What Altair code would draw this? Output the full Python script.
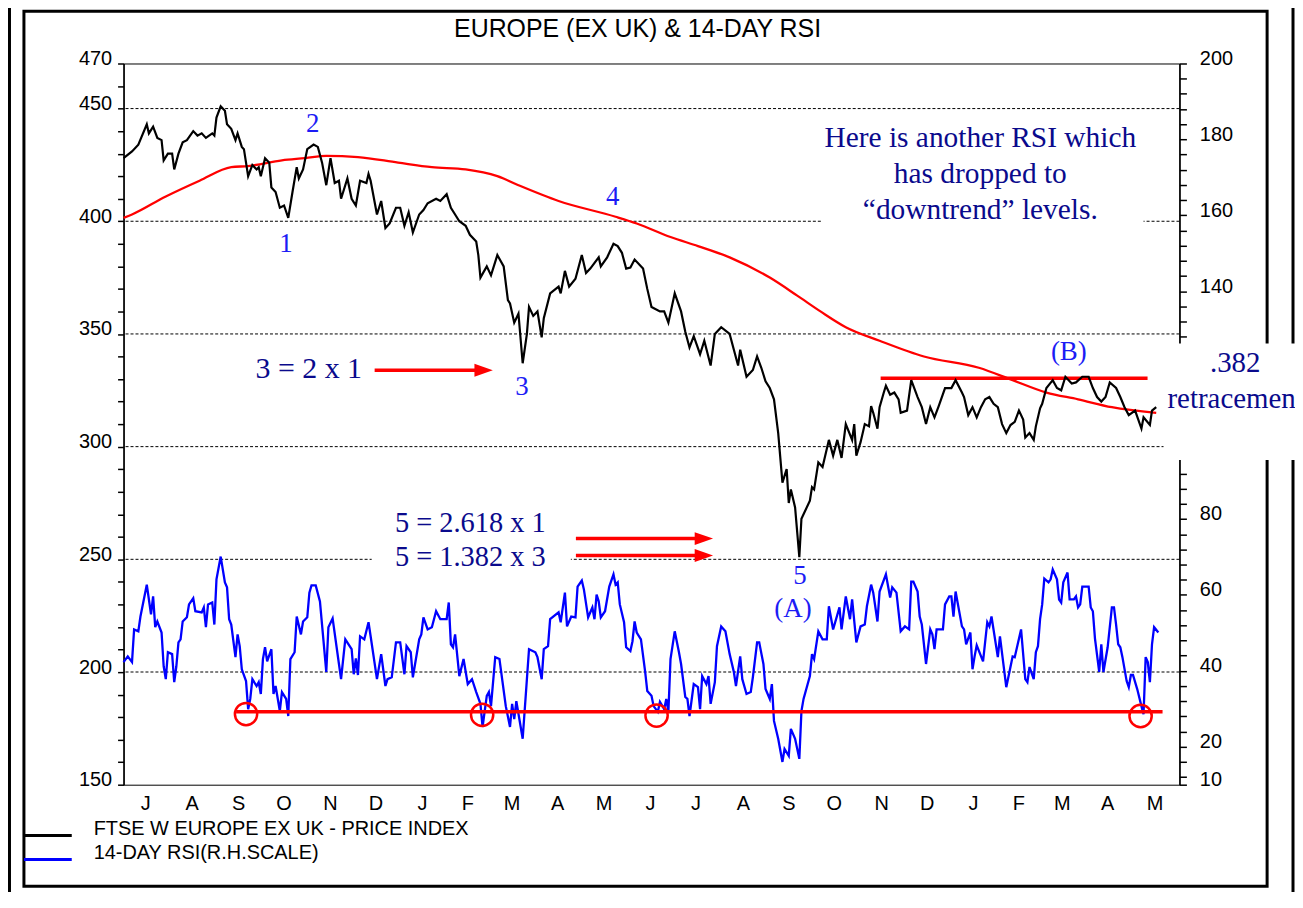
import json
import altair as alt
import pandas as pd

# ---------------- values ----------------
# x = trading-session number counted from 3 Jul 2000 (weekday axis, ends 31 May 2002)
price_t = [0, 4, 7, 11, 12, 14, 16, 18, 19, 21, 23, 24, 26, 28, 30, 33, 35, 37, 39, 42, 43, 44, 46, 48, 49,
           51, 53, 54, 56, 57, 59, 61, 63, 64, 65, 67, 69, 70, 72, 74, 76, 78, 80, 82, 83, 85, 87, 90, 92, 94,
           96, 98, 100, 102, 103, 106, 108, 110, 112, 115, 116, 117, 120, 122, 124, 126, 129, 131, 133, 135,
           137, 140, 142, 144, 148, 150, 153, 155, 157, 159, 162, 164, 167, 168, 169, 172, 174, 177, 180, 182,
           183, 185, 187, 189, 191, 192, 194, 196, 198, 199, 202, 206, 207, 209, 211, 214, 217, 219, 221, 225,
           226, 229, 232, 234, 236, 238, 240, 242, 246, 248, 250, 254, 256, 258, 261, 264, 266, 268, 270, 273,
           275, 278, 280, 283, 287, 289, 291, 292, 295, 298, 300, 302, 304, 306, 308, 310, 312, 314, 315, 316,
           318, 320, 321, 325, 326, 327, 329, 331, 334, 336, 338, 340, 342, 345, 346, 347, 349, 351, 353, 354,
           355, 357, 358, 360, 361, 363, 365, 367, 368, 371, 373, 376, 378, 380, 382, 384, 386, 389, 392, 394,
           397, 398, 400, 402, 404, 406, 408, 410, 412, 414, 416, 418, 420, 422, 424, 426, 427, 429, 431, 432,
           434, 435, 437, 440, 442, 444, 446, 449, 451, 454, 457, 459, 461, 463, 465, 467, 470, 472, 474, 476,
           479, 482, 483, 486, 487, 489]
price_v = [428, 431, 434, 443, 439, 442, 437, 436, 427, 430, 430, 423, 430, 435, 436, 440, 438, 439, 437, 439,
           438, 446, 451, 449, 443, 441, 436, 439, 433, 432, 420, 425, 423, 424, 420, 428, 426, 415, 413, 406,
           407, 401.5, 413, 424, 419, 423, 432, 434, 433, 426, 416, 428, 417, 418, 410, 419, 410, 407, 418, 417,
           421, 418, 403, 409, 397, 399, 406, 406, 398, 404, 395, 403, 405, 408, 410, 409, 412, 406, 403, 400,
           398, 394, 391, 385, 375, 380, 376, 385, 380, 365, 363.5, 355, 359, 337, 350, 362, 358, 360, 348.5,
           357, 368, 371, 368, 378, 371, 374.5, 385, 377, 379, 384, 380, 384, 390, 389, 386, 379, 379.5, 383,
           379, 370, 362, 360, 360, 355, 368, 360, 351, 344, 349, 341, 347, 336, 350, 353, 350, 343, 336, 343,
           331, 334, 340, 335, 329, 326, 321, 306, 284, 290, 275, 281, 273, 251, 268, 276, 282, 281, 293, 291,
           303, 296, 303, 295, 310, 303, 310, 296, 302, 310, 309, 318, 315, 308, 317.5, 324, 327, 323, 324, 321,
           315, 316, 329.5, 322, 317.5, 310, 317.5, 313, 318, 326, 326, 329.5, 324, 322, 314, 317.5, 313, 317.5,
           321, 322, 319, 317.5, 310, 306, 309.6, 311, 316, 312, 304, 306, 303, 309, 317, 319, 326, 329.5, 326,
           325, 331, 328, 328.5, 331, 331, 326, 322, 320, 322, 328.5, 326, 322, 317.5, 314, 316, 308, 313,
           309.6, 316, 317.5]

ma_t = [0, 4, 20, 36, 51, 59, 75, 86, 96, 111, 130, 146, 162, 177, 187, 206, 233, 243, 259, 272, 287, 306,
        319, 330, 342, 358, 379, 405, 421, 437, 452, 468, 489]
ma_v = [401.5, 403, 411, 418, 424, 424.5, 427, 428, 429, 428.5, 426, 424, 423, 420, 416, 409, 402, 399, 393,
        389, 384, 375, 367, 360, 353, 347, 340, 335, 329.5, 324, 321, 317.5, 315]

rsi_t = [0, 2, 4, 5, 7, 8, 11, 13, 14, 15, 16, 18, 19, 20, 21, 23, 24, 25, 26, 27, 28, 30, 31, 33, 34, 37, 38,
         39, 40, 42, 43, 44, 46, 48, 49, 50, 51, 53, 54, 55, 56, 58, 59, 60, 61, 63, 64, 65, 66, 67, 68, 70, 71,
         72, 74, 75, 77, 78, 79, 81, 82, 84, 85, 87, 88, 89, 91, 93, 96, 97, 99, 102, 103, 105, 108, 109, 110,
         111, 112, 114, 116, 117, 120, 122, 124, 125, 127, 129, 131, 133, 134, 136, 137, 140, 141, 142, 144,
         146, 148, 150, 153, 154, 155, 156, 157, 159, 161, 163, 165, 167, 169, 170, 172, 173, 174, 176, 178,
         181, 183, 184, 185, 186, 189, 191, 192, 195, 196, 198, 199, 201, 202, 206, 207, 209, 210, 212, 214,
         215, 217, 218, 220, 222, 223, 224, 225, 226, 228, 230, 232, 233, 234, 235, 237, 238, 240, 241, 242,
         243, 245, 247, 248, 250, 251, 253, 254, 256, 257, 258, 259, 261, 263, 264, 266, 267, 268, 270, 272,
         273, 274, 276, 277, 278, 280, 281, 283, 285, 287, 289, 290, 292, 293, 295, 297, 298, 300, 301, 303,
         304, 306, 307, 308, 310, 312, 313, 315, 316, 318, 320, 321, 322, 325, 326, 327, 329, 331, 333, 334,
         336, 339, 340, 342, 344, 345, 347, 349, 351, 352, 354, 355, 357, 358, 361, 363, 364, 366, 368, 370,
         372, 373, 374, 376, 377, 378, 380, 382, 383, 384, 385, 388, 389, 391, 392, 393, 394, 397, 398, 399,
         401, 402, 403, 404, 407, 409, 410, 411, 414, 415, 418, 421, 422, 425, 427, 428, 429, 431, 432, 433,
         434, 435, 436, 438, 439, 440, 442, 443, 444, 445, 447, 448, 450, 451, 452, 453, 454, 457, 458, 459,
         460, 462, 463, 464, 466, 468, 469, 470, 471, 472, 473, 475, 476, 477, 478, 480, 482, 483, 484, 485,
         486, 487, 488, 490]
rsi_v = [42.3, 43.8, 42.3, 50.9, 50.4, 54.3, 62.7, 54.9, 59.6, 51.5, 53, 50.1, 41.2, 37.8, 44.9, 44.4, 37, 41.2,
         47.5, 48.3, 53, 54.1, 57.5, 59.1, 55.7, 55.4, 56.7, 51.5, 57.5, 58, 52.2, 64.1, 70.1, 63.3, 62, 53.6,
         52.2, 43.6, 49.6, 46.5, 40.4, 37.3, 29.9, 32.6, 37.8, 36, 37, 33.9, 43.1, 46.2, 42.5, 45.7, 33.9, 36,
         29.4, 34.4, 32.6, 28.1, 43.1, 44.9, 54.3, 49.6, 53, 54.1, 60.6, 62.5, 62.5, 58.3, 39.7, 51.5, 53.8,
         41.8, 37.8, 48.3, 45.7, 39.1, 43.3, 38.9, 49.1, 48.3, 52.8, 49.1, 37.8, 44.4, 36, 37.8, 38.3, 47.5,
         47.5, 39.1, 46.5, 44.9, 38.3, 48.3, 49.6, 54.1, 50.9, 51.5, 55.7, 53.6, 53.6, 58, 47, 46.2, 49.6,
         38.6, 43.1, 36.5, 37.8, 34.4, 31.3, 25.2, 33.4, 34.4, 30.7, 43.6, 43.1, 30.7, 25.2, 31.3, 27.3, 32,
         22.1, 37.8, 45.7, 44.9, 43.6, 37.8, 45.7, 46.5, 53.6, 55.4, 52.8, 60.6, 51.7, 54.3, 54.1, 62.2, 63.8,
         61.4, 54.1, 56.7, 53.6, 60.1, 58.3, 54.1, 55.7, 62.2, 65.4, 62.7, 63.3, 57.5, 52.8, 46.2, 45.2, 47.8,
         53, 50.1, 48.3, 39.7, 34.7, 33.4, 30.7, 29.2, 31.8, 29.9, 32.6, 29.2, 43.1, 50.4, 44.9, 41.8, 33.1,
         32.6, 28.1, 36.5, 35.7, 29.9, 38.6, 36.5, 38.6, 31.3, 37, 46.5, 51.7, 50.4, 44.4, 39.7, 36, 43.8,
         37.8, 33.9, 34.4, 38.3, 47.5, 47.5, 41.8, 35.2, 32.6, 36.5, 26.8, 22.1, 16, 19.4, 17.6, 24.7, 22.1,
         16.8, 29.4, 32.6, 38.6, 44.4, 43.1, 50.4, 48.3, 48.3, 57, 50.9, 56.7, 50.9, 59.6, 53.6, 58.8, 47.5,
         51.7, 52.2, 57, 62.7, 60.6, 53, 60.9, 65.4, 59.3, 62, 60.6, 50.4, 51.7, 50.9, 63.5, 63.5, 60.9, 54.3,
         52.2, 41.8, 50.9, 49.6, 45.7, 50.9, 50.9, 57.5, 59.6, 59.6, 54.3, 60.9, 51.7, 50.9, 47, 50.1, 40.4,
         43.8, 46.7, 42.5, 52.8, 51.7, 54.3, 43.6, 49.1, 35.7, 43.8, 43.6, 50.9, 37.8, 37, 41, 37.8, 44.9,
         46.5, 53.6, 57.5, 64.3, 63.3, 64.1, 66.7, 64.1, 58.8, 58, 63.3, 65.9, 58.8, 58.8, 59.6, 56.7, 57.5,
         62.2, 62.2, 56.7, 55.7, 48.5, 39.7, 47, 39.7, 46.2, 56.7, 56.7, 52.2, 47, 46.2, 43.6, 37.3, 35.7,
         38.9, 38.9, 35.2, 30.7, 28.6, 43.6, 42.3, 37, 47, 51.5, 50.1]

grid_levels = [450, 400, 350, 300, 250, 200]
left_labels = [470, 450, 400, 350, 300, 250, 200, 150]
right_labels = [200, 180, 160, 140, 80, 60, 40, 20, 10]   # 120 and 100 sit under the note box

res_t, res_t2, res_v = [358.5], [484.9], [330.3]          # resistance at the (B) highs
sup_t, sup_t2, sup_v = [53.3], [492], [29.2]              # RSI "downtrend" line
circ_t = [58, 169.8, 252.4, 481.6]                        # circled RSI lows
circ_v = [28.6, 28.4, 28.2, 28.1]

arrow_t = [118.9, 214.2, 214.2]
arrow_t2 = [168, 271.7, 271.7]
arrow_head = [170.5, 274.8, 274.8]
arrow_v = [333.9, 259.2, 251.7]

wave_text = ["1", "2", "3", "4", "5", "(A)", "(B)"]
wave_t = [76.9, 89.6, 188.7, 231.6, 320.3, 317, 447.6]
wave_v = [390, 443, 326.4, 410.8, 242.4, 227.8, 341.8]

note_text = ["Here is another RSI which", "has dropped to", "\u201cdowntrend\u201d levels.",
             "3 = 2 x 1", "5 = 2.618 x 1", "5 = 1.382 x 3"]
note_t = [405.7, 405.7, 405.7, 87.7, 164.2, 164.2]
note_v = [436.9, 420.9, 405, 334.3, 266.2, 251.2]
note_size = [29.5, 29.5, 29.5, 30, 28.5, 28.5]

box_t, box_t2 = [330.7, 117.5], [483, 211.8]
box_v, box_v2 = [396.6, 243.3], [445, 274.2]

# ---------------- axis structure (weekday calendar) ----------------
sessions = pd.bdate_range("2000-07-01", "2002-05-31")
N = len(sessions)
month_starts = [i for i in range(N) if i == 0 or sessions[i].month != sessions[i - 1].month]
tick_vals = month_starts + [N]
month_mid = [(a + b) / 2 for a, b in zip(tick_vals[:-1], tick_vals[1:])]
month_letter = [sessions[i].strftime("%b")[0] for i in month_starts]

W, H = 1060, 724
NAVY = "#0a0a8c"
WAVE = "#1c1cf5"
RED = "#ff0000"
SANS = "Liberation Sans"
SERIF = "Liberation Serif"

XS = alt.Scale(domain=[0, N], nice=False, zero=False)
PS = alt.Scale(domain=[150, 470], nice=False, zero=False)
RS = alt.Scale(domain=[10, 200], nice=False, zero=False)

common_axis = dict(title=None, tickColor="black", tickWidth=1.5, domainColor="black", domainWidth=1.5,
                   labelFont=SANS, labelFontSize=20, labelColor="black", grid=False)

x_axis = alt.Axis(orient="bottom", values=tick_vals, labels=False, tickSize=6, **common_axis)
left_axis = alt.Axis(orient="left", values=list(range(150, 471, 10)),
                     labelExpr=f"indexof({json.dumps(left_labels)}, datum.value) >= 0 ? datum.label : ''",
                     tickSize=6, labelPadding=6, labelOffset=-5, **common_axis)
right_axis = alt.Axis(orient="right", values=list(range(200, 11, -4)) + [10],
                      labelExpr=f"indexof({json.dumps(right_labels)}, datum.value) >= 0 ? datum.label : ''",
                      tickSize=7, labelPadding=13, labelOffset=-5, **common_axis)


def X(f="t", axis=None):
    return alt.X(f"{f}:Q", scale=XS, axis=axis)


def YP(f="v", axis=None):
    return alt.Y(f"{f}:Q", scale=PS, axis=axis)


def YR(f="v", axis=None):
    return alt.Y(f"{f}:Q", scale=RS, axis=axis)


one = pd.DataFrame({"k": [0]})

# ---------------- price (left scale) ----------------
grid = alt.Chart(pd.DataFrame({"v": grid_levels})).mark_rule(
    color="black", strokeWidth=1, strokeDash=[3, 2]).encode(y=YP())
boxes = alt.Chart(pd.DataFrame({"t": box_t, "t2": box_t2, "v": box_v, "v2": box_v2})).mark_rect(
    color="white").encode(x=X(), x2="t2", y=YP(), y2="v2")
ma = alt.Chart(pd.DataFrame({"t": ma_t, "v": ma_v})).mark_line(
    color=RED, strokeWidth=2.3, interpolate="monotone").encode(x=X(), y=YP())
res = alt.Chart(pd.DataFrame({"t": res_t, "t2": res_t2, "v": res_v})).mark_rule(
    color=RED, strokeWidth=3.5).encode(x=X(), x2="t2", y=YP())
price = alt.Chart(pd.DataFrame({"t": price_t, "v": price_v})).mark_line(
    color="black", strokeWidth=2.2).encode(x=X(axis=x_axis), y=YP(axis=left_axis))
arr_df = pd.DataFrame({"t": arrow_t, "t2": arrow_t2, "h": arrow_head, "v": arrow_v})
arrows = alt.Chart(arr_df).mark_rule(color=RED, strokeWidth=3.5).encode(x=X(), x2="t2", y=YP())
heads = alt.Chart(arr_df).mark_point(shape="M-1,-0.7L1,0L-1,0.7Z", filled=True, color=RED,
                                     size=340, opacity=1).encode(x=X("h"), y=YP())
waves = alt.Chart(pd.DataFrame({"t": wave_t, "v": wave_v, "s": wave_text})).mark_text(
    font=SERIF, fontSize=27, color=WAVE, align="center", baseline="middle").encode(
    x=X(), y=YP(), text="s:N")
notes = alt.Chart(pd.DataFrame({"t": note_t, "v": note_v, "s": note_text, "fs": note_size})).mark_text(
    font=SERIF, color=NAVY, align="center", baseline="middle").encode(
    x=X(), y=YP(), text="s:N", size=alt.Size("fs:Q", scale=None, legend=None))
months = alt.Chart(pd.DataFrame({"t": month_mid, "s": month_letter})).mark_text(
    font=SANS, fontSize=20, color="black", align="center", baseline="middle").encode(
    x=X(), y=alt.value(H + 19), text="s:N")

# ---------------- RSI (right scale) ----------------
rsi = alt.Chart(pd.DataFrame({"t": rsi_t, "v": rsi_v})).mark_line(
    color="#0000ff", strokeWidth=2.3).encode(x=X(), y=YR(axis=right_axis))
sup = alt.Chart(pd.DataFrame({"t": sup_t, "t2": sup_t2, "v": sup_v})).mark_rule(
    color=RED, strokeWidth=3.5).encode(x=X(), x2="t2", y=YR())
circles = alt.Chart(pd.DataFrame({"t": circ_t, "v": circ_v})).mark_point(
    shape="circle", filled=False, color=RED, strokeWidth=2.5, size=500, opacity=1).encode(x=X(), y=YR())

# ---------------- page furniture (pixels relative to the plot origin) ----------------
frame = alt.Chart(one).mark_rect(fill="transparent", stroke="black", strokeWidth=3).encode(
    x=alt.value(-100), x2=alt.value(1148), y=alt.value(-52.5), y2=alt.value(826))
outer_l = alt.Chart(one).mark_rule(color="black", strokeWidth=3).encode(
    x=alt.value(-114.5), y=alt.value(-62), y2=alt.value(846))
outer_r = alt.Chart(one).mark_rule(color="black", strokeWidth=3).encode(
    x=alt.value(1174), y=alt.value(-62), y2=alt.value(846))
cover = alt.Chart(one).mark_rect(color="white").encode(
    x=alt.value(1044), x2=alt.value(1180), y=alt.value(281), y2=alt.value(398))
t382 = alt.Chart(one).mark_text(text=".382", font=SERIF, fontSize=29, color=NAVY, align="center",
                                baseline="middle").encode(x=alt.value(1116), y=alt.value(301))
tret = alt.Chart(one).mark_text(text="retracement", font=SERIF, fontSize=29, color=NAVY, align="left",
                                baseline="middle").encode(x=alt.value(1048), y=alt.value(337))
title = alt.Chart(one).mark_text(text="EUROPE (EX UK) & 14-DAY RSI", font=SANS, fontSize=25,
                                 color="black", align="center", baseline="middle").encode(
    x=alt.value(516), y=alt.value(-35))
leg_l1 = alt.Chart(one).mark_rule(color="black", strokeWidth=3).encode(
    x=alt.value(-100), x2=alt.value(-52), y=alt.value(775))
leg_l2 = alt.Chart(one).mark_rule(color="#0000ff", strokeWidth=3).encode(
    x=alt.value(-100), x2=alt.value(-52), y=alt.value(799))
leg_t1 = alt.Chart(one).mark_text(text="FTSE W EUROPE EX UK - PRICE INDEX", font=SANS, fontSize=20,
                                  color="black", align="left", baseline="middle").encode(
    x=alt.value(-30), y=alt.value(768))
leg_t2 = alt.Chart(one).mark_text(text="14-DAY RSI(R.H.SCALE)", font=SANS, fontSize=20,
                                  color="black", align="left", baseline="middle").encode(
    x=alt.value(-30), y=alt.value(793))

chart = alt.layer(
    grid, boxes, ma, res, price, arrows, heads, waves, notes, months,
    rsi, sup, circles,
    frame, outer_l, outer_r, cover, t382, tret, title, leg_l1, leg_l2, leg_t1, leg_t2,
).resolve_scale(y="independent").properties(
    width=W, height=H,
    autosize=alt.AutoSizeParams(type="none"),
    padding={"left": 116, "top": 54, "right": 116, "bottom": 106},
).configure_view(stroke="black", strokeWidth=1)

chart.save("out.html", embed_options={"renderer": "svg", "actions": False})
